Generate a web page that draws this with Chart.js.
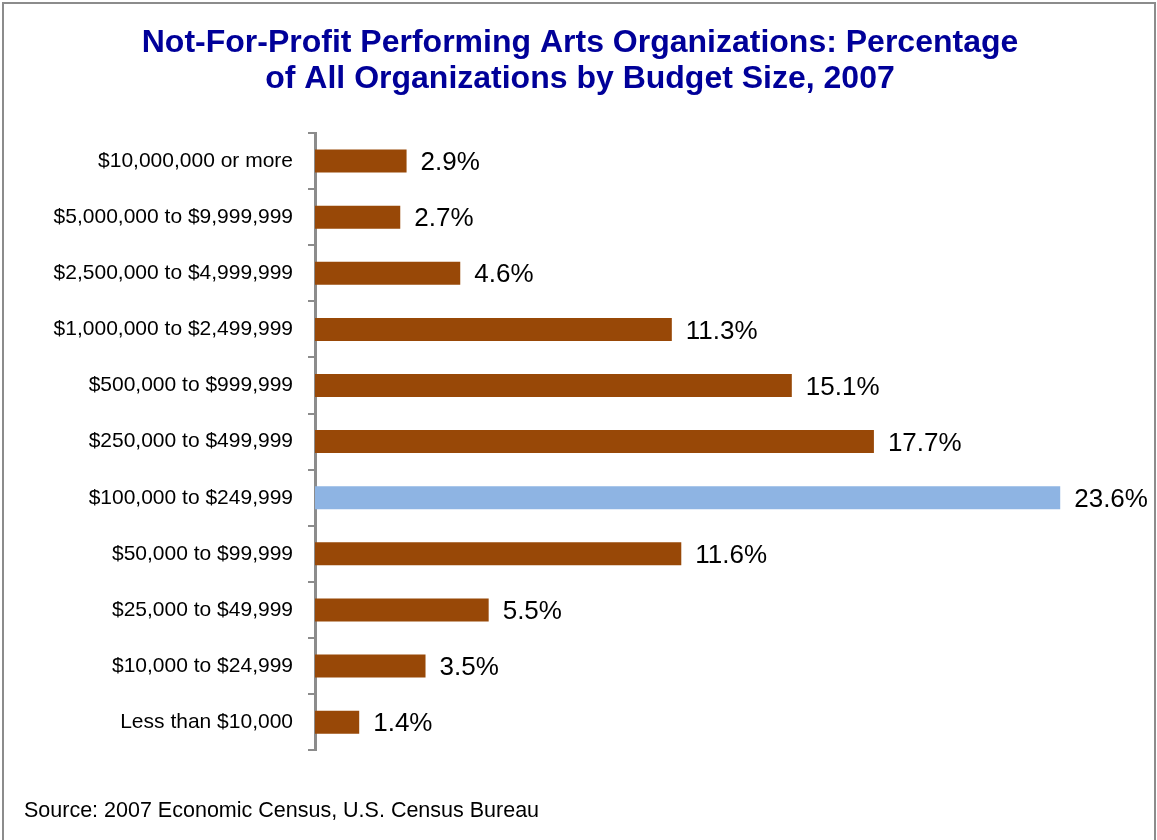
<!DOCTYPE html>
<html>
<head>
<meta charset="utf-8">
<script src="https://cdn.jsdelivr.net/npm/chart.js@4/dist/chart.umd.min.js"></script>
<style>
html,body{margin:0;padding:0;background:#fff;}
#wrap{position:relative;width:1157px;height:840px;}
</style>
</head>
<body>
<div id="wrap"><canvas id="c" width="1157" height="840"></canvas></div>
<script>
const titleLines = ["Not-For-Profit Performing Arts Organizations: Percentage", "of All Organizations by Budget Size, 2007"];
const sourceText = "Source: 2007 Economic Census, U.S. Census Bureau";
const categories = [
  "$10,000,000 or more",
  "$5,000,000 to $9,999,999",
  "$2,500,000 to $4,999,999",
  "$1,000,000 to $2,499,999",
  "$500,000 to $999,999",
  "$250,000 to $499,999",
  "$100,000 to $249,999",
  "$50,000 to $99,999",
  "$25,000 to $49,999",
  "$10,000 to $24,999",
  "Less than $10,000"
];
const percentages = [2.9, 2.7, 4.6, 11.3, 15.1, 17.7, 23.6, 11.6, 5.5, 3.5, 1.4];
const highlightCategory = "$100,000 to $249,999";

const BROWN = '#984807';
const BLUE = '#8EB4E3';
const FONT = "'Liberation Sans', Arial, sans-serif";

const frame = {
  id: 'frame',
  beforeDraw(chart) {
    const ctx = chart.ctx;
    ctx.save();
    ctx.fillStyle = '#fff';
    ctx.fillRect(0, 0, chart.width, chart.height);
    ctx.strokeStyle = '#8c8c8c';
    ctx.lineWidth = 2;
    ctx.beginPath();
    ctx.moveTo(3, 842);
    ctx.lineTo(3, 3);
    ctx.lineTo(1155, 3);
    ctx.lineTo(1155, 842);
    ctx.stroke();
    ctx.restore();
  }
};

const valueLabels = {
  id: 'valueLabels',
  afterDatasetsDraw(chart) {
    const ctx = chart.ctx;
    const meta = chart.getDatasetMeta(0);
    ctx.save();
    ctx.font = "26px " + FONT;
    ctx.fillStyle = '#000';
    ctx.textAlign = 'left';
    ctx.textBaseline = 'middle';
    meta.data.forEach((bar, i) => {
      ctx.fillText(percentages[i].toFixed(1) + '%', bar.x + 14, bar.y + 2);
    });
    ctx.restore();
  }
};

new Chart(document.getElementById('c'), {
  type: 'bar',
  data: {
    labels: categories,
    datasets: [{
      data: percentages,
      backgroundColor: categories.map(c => c === highlightCategory ? BLUE : BROWN),
      borderWidth: 0,
      barPercentage: 0.41,
      categoryPercentage: 1.0
    }]
  },
  options: {
    indexAxis: 'y',
    responsive: false,
    animation: false,
    devicePixelRatio: 1,
    layout: { padding: { top: 26, left: 24, right: 21, bottom: 8 } },
    plugins: {
      legend: { display: false },
      tooltip: { enabled: false },
      title: {
        display: true,
        text: titleLines,
        color: '#000099',
        font: { family: FONT, size: 32, weight: 'bold', lineHeight: 1.1 },
        padding: { top: 0, bottom: 36.6 }
      },
      subtitle: {
        display: true,
        position: 'bottom',
        align: 'start',
        text: sourceText,
        color: '#000',
        font: { family: FONT, size: 21.5, lineHeight: 1.2 },
        padding: { top: 48, bottom: 8 }
      }
    },
    scales: {
      x: {
        display: false,
        min: 0,
        max: 26
      },
      y: {
        afterFit(scale) { scale.width = 291; },
        grid: {
          offset: true,
          drawOnChartArea: false,
          drawTicks: true,
          tickLength: 7,
          color: '#8c8c8c',
          lineWidth: 2
        },
        border: { display: true, color: '#8c8c8c', width: 3 },
        ticks: {
          color: '#000',
          padding: 15,
          font: { family: FONT, size: 21 }
        }
      }
    }
  },
  plugins: [frame, valueLabels]
});
</script>
</body>
</html>
